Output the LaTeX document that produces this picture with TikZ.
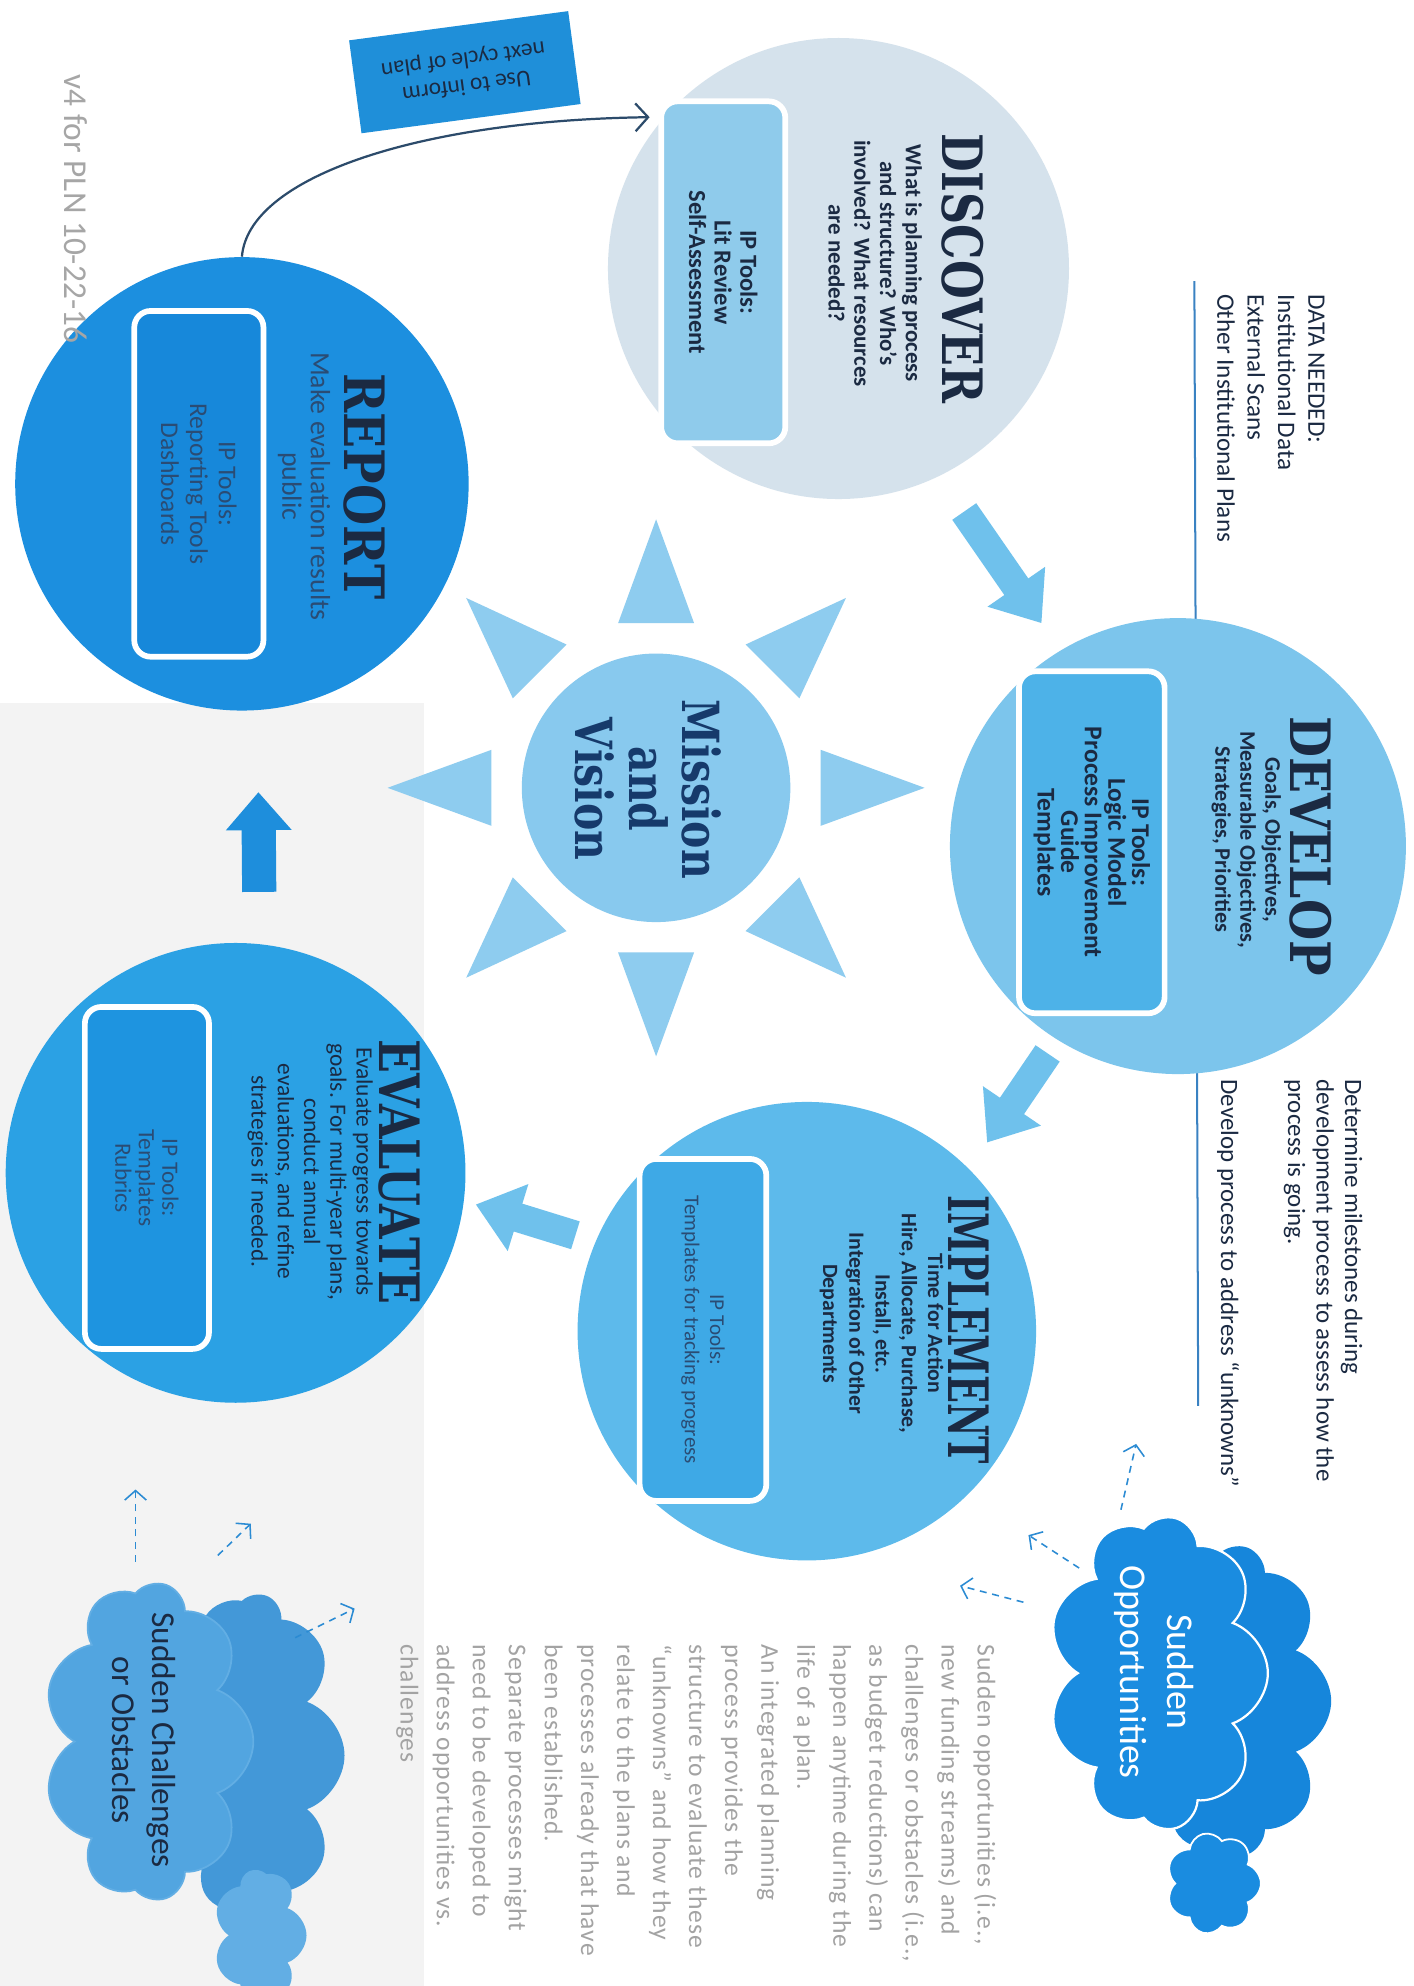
\documentclass[tikz,border=0pt]{standalone}
\usepackage{fontspec}
\setmainfont{Carlito}
\newfontfamily\slabfont{DejaVu Serif}[FakeStretch=0.8]
\newfontfamily\slabwidefont{DejaVu Serif}[FakeStretch=0.85]
\newfontfamily\slabnarrowfont{DejaVu Serif}[FakeStretch=0.66]
\newfontfamily\greyfont{Carlito}[LetterSpace=4]
\usepackage{tikz}
\usetikzlibrary{arrows.meta, positioning, shapes.symbols}
\usepackage{xcolor}

\definecolor{navy}{HTML}{1B2A42}
\definecolor{softnavy}{HTML}{2A4C74}
\definecolor{missionnavy}{HTML}{163A6B}
\definecolor{discoverfill}{HTML}{D5E2EC}
\definecolor{developfill}{HTML}{7CC5EC}
\definecolor{implementfill}{HTML}{5DBAEB}
\definecolor{evaluatefill}{HTML}{2BA1E4}
\definecolor{reportfill}{HTML}{1C8FDF}
\definecolor{missionfill}{HTML}{88C9EE}
\definecolor{rayfill}{HTML}{8ECCEF}
\definecolor{discoverboxfill}{HTML}{8FCBEB}
\definecolor{developboxfill}{HTML}{4DB2E8}
\definecolor{implementboxfill}{HTML}{3EA9E6}
\definecolor{evaluateboxfill}{HTML}{1E94E0}
\definecolor{reportboxfill}{HTML}{1788DA}
\definecolor{flowfill}{HTML}{6FC1EC}
\definecolor{reportarrow}{HTML}{1E8EDC}
\definecolor{useblue}{HTML}{1F8FD9}
\definecolor{curveline}{HTML}{2C4B6B}
\definecolor{ruleblue}{HTML}{3A82C2}
\definecolor{oppfill}{HTML}{1A8CE0}
\definecolor{oppback}{HTML}{1686DB}
\definecolor{obstaclefill}{HTML}{52A5E0}
\definecolor{obstacleback}{HTML}{4398D8}
\definecolor{obstacletail}{HTML}{62AEE4}
\definecolor{dashblue}{HTML}{2B8BD3}
\definecolor{paragraphgrey}{HTML}{A3A3A3}
\definecolor{scangrey}{HTML}{F3F3F3}

\begin{document}
\begin{tikzpicture}[x=0.2mm, y=-0.2mm, >=Stealth,
    stage/.style={circle, inner sep=0pt},
    heading/.style={rotate=-90, inner sep=0pt, text=navy, font=\slabfont\bfseries\fontsize{25}{27}\selectfont},
    bodytext/.style={rotate=-90, inner sep=0pt, align=center, text=navy},
    toolbox/.style={rotate=-90, rounded corners=2.6mm, draw=white, line width=0.9mm, inner sep=0pt, align=center, minimum width=54mm, minimum height=19.6mm},
    flow/.style={draw=flowfill, line width=4.6mm, -{Triangle[width=10.6mm, length=7mm]}},
    dasharrow/.style={draw=dashblue, line width=0.7pt, dash pattern=on 1.1mm off 0.9mm, -{Straight Barb[length=1.5mm, width=3.4mm]}},
    sidetext/.style={rotate=-90, anchor=north west, inner sep=0pt, align=left},
    puff/.style={cloud, cloud puffs=9, cloud puff arc=140, aspect=1.3, inner sep=0pt, rotate=-90}
]
    \fill[white] (0,0) rectangle (1116,1568);
    \useasboundingbox (0,0) rectangle (1116,1568);
    \fill[scangrey] (0,555) rectangle (335,1568);

    \coordinate (ruletop) at (943,222);
    \coordinate (rulebottom) at (946,1110);
    \draw[ruleblue, line width=0.9pt] (ruletop) -- (rulebottom);

    \node (discover) [stage, fill=discoverfill, minimum size=72.8mm] at (662,212) {};
    \node (develop) [stage, fill=developfill, minimum size=72mm] at (930,668) {};
    \node (implement) [stage, fill=implementfill, minimum size=72.4mm] at (637,1051) {};
    \node (evaluate) [stage, fill=evaluatefill, minimum size=72.6mm] at (186,926) {};
    \node (report) [stage, fill=reportfill, minimum size=71.6mm] at (191,382) {};
    \node (mission) [stage, fill=missionfill, minimum size=42.4mm] at (518,622) {};

    \foreach \a in {0,45,...,315}
        \fill[rayfill, shift={(mission.center)}] (\a:212) -- (\a+13:133.4) -- (\a-13:133.4) -- cycle;

    \node (missiontext) [bodytext, text=missionnavy, font=\slabfont\bfseries\fontsize{23}{24}\selectfont] at (512,623) {Mission\\and\\Vision};

    \node (discoverhead) [heading] at (760,212) {DISCOVER};
    \node (discovertext) [bodytext, font=\bfseries\fontsize{10.3}{11.6}\selectfont] at (691,208) {What is planning process\\and structure? Who’s\\involved? What resources\\are needed?};
    \node (discovertools) [toolbox, fill=discoverboxfill, text=navy, font=\bfseries\fontsize{11}{11.5}\selectfont] at (571,215) {IP Tools:\\Lit Review\\Self-Assessment};

    \node (develophead) [heading, font=\slabwidefont\bfseries\fontsize{25}{27}\selectfont] at (1035,668) {DEVELOP};
    \node (developtext) [bodytext, font=\bfseries\fontsize{10}{11.2}\selectfont] at (984,663) {Goals, Objectives,\\Measurable Objectives,\\Strategies, Priorities};
    \node (developtools) [toolbox, fill=developboxfill, minimum height=23mm, text=navy, font=\bfseries\fontsize{11.5}{10.6}\selectfont] at (862,665) {IP Tools:\\Logic Model\\Process Improvement\\Guide\\Templates};

    \node (implementhead) [heading, font=\slabnarrowfont\bfseries\fontsize{25}{27}\selectfont] at (765,1050) {IMPLEMENT};
    \node (implementtext) [bodytext, font=\bfseries\fontsize{9.8}{11.8}\selectfont] at (696,1045) {Time for Action\\Hire, Allocate, Purchase,\\Install, etc.\\Integration of Other\\Departments};
    \node (implementtools) [toolbox, fill=implementboxfill, minimum height=20mm, text=softnavy, font=\fontsize{9.5}{11.4}\selectfont] at (555,1050) {IP Tools:\\Templates for tracking progress};

    \node (evaluatehead) [heading] at (315,925) {EVALUATE};
    \node (evaluatetext) [bodytext, font=\fontsize{10.5}{11.8}\selectfont] at (245,925) {Evaluate progress towards\\goals. For multi-year plans,\\conduct annual\\evaluations, and refine\\strategies if needed.};
    \node (evaluatetools) [toolbox, fill=evaluateboxfill, text=softnavy, font=\fontsize{10.5}{10.6}\selectfont] at (116,930) {IP Tools:\\Templates\\Rubrics};

    \node (reporthead) [heading, font=\slabwidefont\bfseries\fontsize{25}{27}\selectfont] at (288,384) {REPORT};
    \node (reporttext) [bodytext, text=softnavy, font=\fontsize{12.5}{12.8}\selectfont] at (240,384) {Make evaluation results\\public};
    \node (reporttools) [toolbox, fill=reportboxfill, minimum width=54.6mm, minimum height=20.4mm, text=softnavy, font=\fontsize{11.5}{13}\selectfont] at (157,382) {IP Tools:\\Reporting Tools\\Dashboards};

    \draw[flow, shorten <=6.8mm, shorten >=5.2mm] (discover.296) -- (develop.121);
    \draw[flow, shorten <=2.6mm, shorten >=5mm] (develop.238) -- (implement.45);
    \draw[flow, shorten <=3.3mm, shorten >=1.9mm] (implement.157) -- (evaluate.353);
    \draw[flow, draw=reportarrow, line width=5.4mm, -{Triangle[width=10mm, length=6mm]}, shorten <=8.2mm, shorten >=12.9mm] (evaluate.84) -- (report.274);

    \draw[curveline, line width=1pt, -{Straight Barb[length=2mm, width=4.4mm]}, shorten >=2.3mm] (report.north) .. controls (196,140) and (330,95) .. (discover.139);

    \node (nextcycle) [fill=useblue, rotate=187.6, minimum width=34.9mm, minimum height=14.8mm, align=center, text=navy, font=\fontsize{10.5}{12}\selectfont] at (367,57) {Use to inform\\next cycle of plan};

    \node (version) [rotate=-90, inner sep=0pt, text=black!35, font=\fontsize{15}{16}\selectfont] at (60,165) {v4 for PLN 10-22-16};

    \node (dataneeded) [sidetext, text=navy, font=\fontsize{11.3}{13.6}\selectfont] at (1046,232) {DATA NEEDED:\\Institutional Data\\External Scans\\Other Institutional Plans};
    \node (milestones) [sidetext, text=navy, font=\fontsize{11.2}{12.8}\selectfont] at (1076,852) {Determine milestones during\\development process to assess how the\\process is going.\\[6.1mm]Develop process to address “unknowns”};
    \node (unknowns) [sidetext, text=paragraphgrey, font=\greyfont\fontsize{11.5}{16.2}\selectfont] at (787,1298) {Sudden opportunities (i.e.,\\new funding streams) and\\challenges or obstacles (i.e.,\\as budget reductions) can\\happen anytime during the\\life of a plan.\\An integrated planning\\process provides the\\structure to evaluate these\\“unknowns” and how they\\relate to the plans and\\processes already that have\\been established.\\Separate processes might\\need to be developed to\\address opportunities vs.\\challenges};

    \node (opportunitiesback) [puff, fill=oppback, minimum width=49.2mm, minimum height=32mm] at (971,1343) {};
    \node (opportunitiestail) [puff, cloud puffs=7, fill=oppfill, draw=white, line width=0.8pt, minimum width=16mm, minimum height=15mm] at (958,1487) {};
    \node (opportunities) [puff, fill=oppfill, draw=white, line width=1pt, minimum width=49.6mm, minimum height=34.8mm] at (914,1321) {};
    \node (opportunitiestext) [bodytext, text=white, font=\fontsize{17}{21}\selectfont] at (911,1320) {Sudden\\Opportunities};

    \node (obstaclesback) [puff, fill=obstacleback, minimum width=51mm, minimum height=29.2mm] at (199,1386) {};
    \node (obstaclestail) [puff, cloud puffs=7, fill=obstacletail, minimum width=20.8mm, minimum height=14.8mm] at (205,1528) {};
    \node (obstacles) [puff, fill=obstaclefill, draw=obstacletail, line width=0.8pt, minimum width=50.2mm, minimum height=33.2mm] at (117,1375) {};
    \node (obstaclestext) [bodytext, font=\fontsize{15}{18}\selectfont] at (114,1374) {Sudden Challenges\\or Obstacles};

    \coordinate (oppstart1) at (885,1192);
    \coordinate (oppend1) at (897,1140);
    \coordinate (oppstart2) at (852,1238);
    \coordinate (oppend2) at (812,1212);
    \coordinate (oppstart3) at (808,1265);
    \coordinate (oppend3) at (758,1252);
    \coordinate (obsstart1) at (107,1233);
    \coordinate (obsend1) at (107,1176);
    \coordinate (obsstart2) at (172,1228);
    \coordinate (obsend2) at (198,1203);
    \coordinate (obsstart3) at (233,1293);
    \coordinate (obsend3) at (280,1270);

    \draw[dasharrow] (oppstart1) -- (oppend1);
    \draw[dasharrow] (oppstart2) -- (oppend2);
    \draw[dasharrow] (oppstart3) -- (oppend3);
    \draw[dasharrow] (obsstart1) -- (obsend1);
    \draw[dasharrow] (obsstart2) -- (obsend2);
    \draw[dasharrow] (obsstart3) -- (obsend3);
\end{tikzpicture}
\end{document}
